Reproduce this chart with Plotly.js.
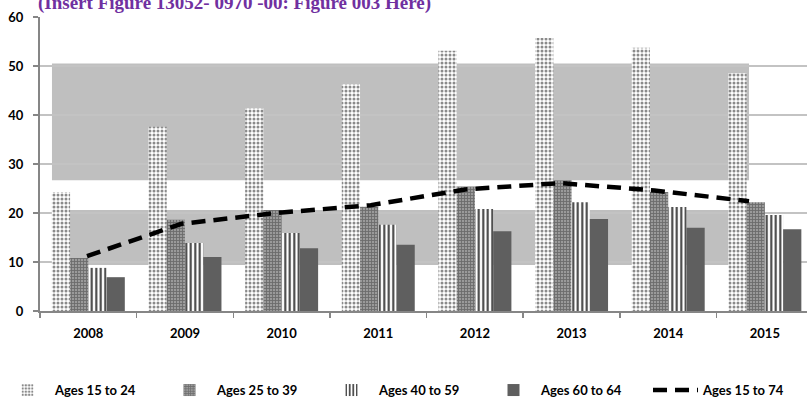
<!DOCTYPE html>
<html>
<head>
<meta charset="utf-8">
<script src="https://cdn.plot.ly/plotly-3.0.1.min.js"></script>
<style>
html,body{margin:0;padding:0;background:#fff;}
#chart{width:807px;height:406px;}
</style>
</head>
<body>
<div id="chart"></div>
<script>
// ---- data ----
const years = ["2008","2009","2010","2011","2012","2013","2014","2015"];
const yearNums = [2008,2009,2010,2011,2012,2013,2014,2015];
const ages15to24 = [24.3, 37.6, 41.4, 46.3, 53.1, 55.7, 53.7, 48.5];
const ages25to39 = [10.8, 18.6, 20.6, 21.3, 25.4, 26.7, 24.3, 22.2];
const ages40to59 = [8.8, 13.9, 15.9, 17.6, 20.8, 22.2, 21.2, 19.6];
const ages60to64 = [6.9, 11.0, 12.8, 13.5, 16.3, 18.8, 17.0, 16.7];
const ages15to74 = [11.2, 17.8, 20.0, 21.6, 24.8, 26.1, 24.6, 22.4];
const seriesNames = ["Ages 15 to 24","Ages 25 to 39","Ages 40 to 59","Ages 60 to 64","Ages 15 to 74"];
const titleText = "(Insert Figure 13052- 0970 -00: Figure 003 Here)";

const font = "Lato, 'Open Sans', 'Liberation Sans', sans-serif";

const traces = [
  {type:"bar", name:seriesNames[0], x:years, y:ages15to24,
   marker:{color:"#ffffff", line:{width:0},
     pattern:{shape:".", fgcolor:"#8a8a8a", bgcolor:"#ffffff", size:4, solidity:0.45}}},
  {type:"bar", name:seriesNames[1], x:years, y:ages25to39,
   marker:{color:"#999999", line:{width:0},
     pattern:{shape:"+", fgcolor:"#6c6c6c", bgcolor:"#9a9a9a", size:3, solidity:0.5}}},
  {type:"bar", name:seriesNames[2], x:years, y:ages40to59,
   marker:{color:"#ffffff", line:{width:0},
     pattern:{shape:"|", fgcolor:"#3c3c3c", bgcolor:"#ffffff", size:4.5, solidity:0.45}}},
  {type:"bar", name:seriesNames[3], x:years, y:ages60to64,
   marker:{color:"#5f5f5f", line:{width:0}}},
  {type:"scatter", mode:"lines", name:seriesNames[4], x:yearNums, y:ages15to74,
   xaxis:"x2", line:{color:"#000000", width:4.5, dash:"14px,8px"}}
];

const layout = {
  width:807, height:406,
  margin:{l:40, r:0, t:17, b:95},
  paper_bgcolor:"#ffffff", plot_bgcolor:"#ffffff",
  barmode:"group", bargap:0.245, bargroupgap:0,
  showlegend:true,
  font:{family:font, color:"#000", size:13},
  xaxis:{type:"category", range:[-0.5, 7.436], showgrid:false,
    showline:true, linecolor:"#868686", linewidth:2,
    ticks:"outside", tickson:"boundaries", ticklen:5, tickcolor:"#868686", tickwidth:1.5,
    tickfont:{family:font, size:13, color:"#000", weight:"bold"},
    ticklabelstandoff:9, fixedrange:true},
  xaxis2:{overlaying:"x", range:[2007.503, 2015.613], visible:false, fixedrange:true},
  yaxis:{range:[0,60], dtick:10, showgrid:true, gridcolor:"#c3c3c3", gridwidth:1.5,
    showline:true, linecolor:"#868686", linewidth:2, zeroline:false,
    ticks:"outside", ticklen:5, tickcolor:"#868686", tickwidth:1.5,
    tickfont:{family:font, size:13, color:"#000", weight:"bold"},
    ticklabelstandoff:7, fixedrange:true},
  shapes:[
    {type:"rect", layer:"between", xref:"paper", yref:"y", x0:0.0156, x1:0.9244, y0:26.7, y1:50.5,
     fillcolor:"#bfbfbf", line:{width:0}},
    {type:"rect", layer:"between", xref:"paper", yref:"y", x0:0.0156, x1:0.9244, y0:9.4, y1:20.6,
     fillcolor:"#bfbfbf", line:{width:0}}
  ],
  legend:{orientation:"h", x:-0.046, xanchor:"left", y:-0.269, yanchor:"middle",
    font:{family:font, size:13, color:"#000", weight:"bold"},
    itemwidth:45, entrywidth:102, entrywidthmode:"pixels", traceorder:"normal",
    bgcolor:"rgba(0,0,0,0)"},
  annotations:[
    {text:titleText, xref:"paper", yref:"paper", x:0, xshift:-4, y:1.0, xanchor:"left", yanchor:"bottom",
     yshift:1, showarrow:false,
     font:{family:"'Liberation Serif', 'DejaVu Serif', serif", size:19, color:"#7030a0", weight:"bold"}}
  ]
};

Plotly.newPlot("chart", traces, layout, {displayModeBar:false, staticPlot:true});
</script>
</body>
</html>
